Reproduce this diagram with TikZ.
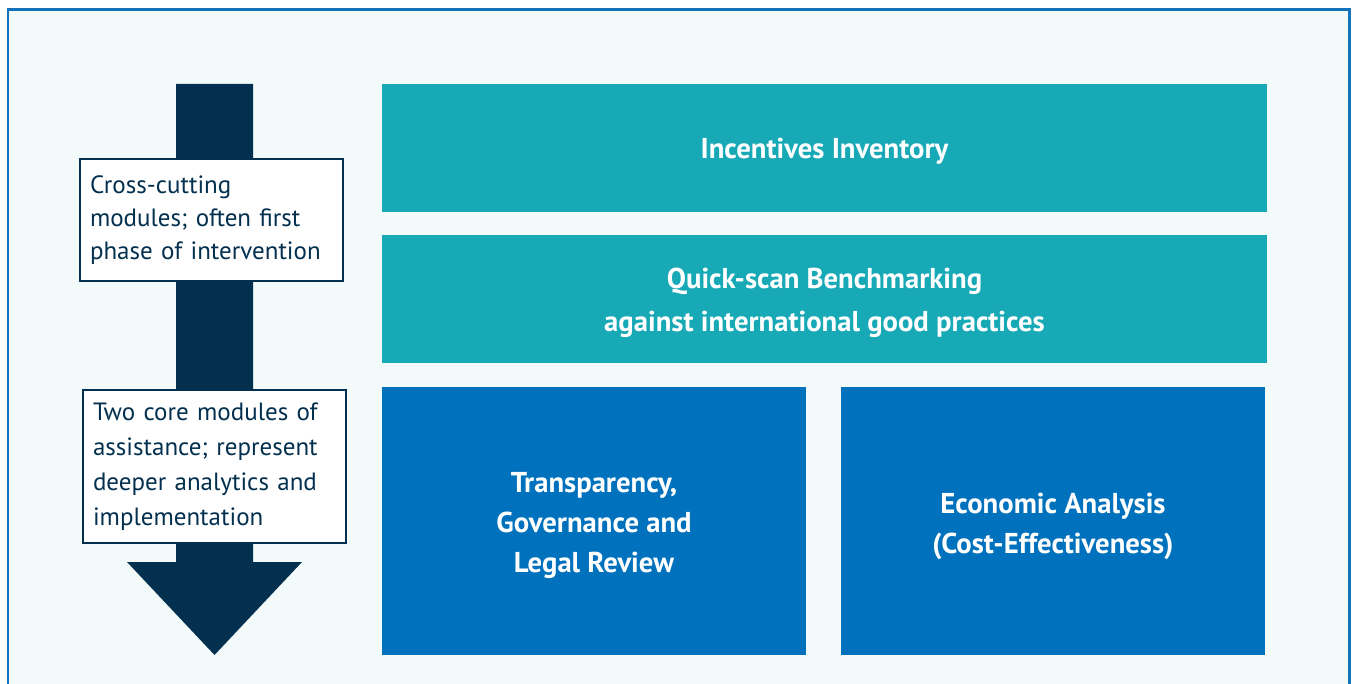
\documentclass[tikz,border=0pt]{standalone}
\usepackage{fontspec}
\setmainfont{PT Sans}
\definecolor{navy}{HTML}{03304F}
\definecolor{teal}{HTML}{17A9B6}
\definecolor{cobalt}{HTML}{0071BC}
\definecolor{paper}{HTML}{F2FBFA}
\definecolor{frameblue}{HTML}{1373BA}
\tikzset{
  module/.style={draw=none, inner sep=0pt},
  teal module/.style={module, fill=teal, minimum width=885pt, minimum height=128pt},
  core module/.style={module, fill=cobalt, minimum width=424pt, minimum height=268pt},
  module text/.style={inner sep=0pt, align=center, text=white,
    font=\bfseries\fontsize{28.7}{43}\selectfont},
  core text/.style={module text, font=\bfseries\fontsize{28.7}{40}\selectfont},
  note/.style={draw=navy, line width=2pt, fill=white, text=navy, align=left,
    inner sep=0pt, text width=243pt, minimum width=263pt}
}
\begin{document}
\begin{tikzpicture}[x=1pt,y=-1pt]
\useasboundingbox (0,0) rectangle (1352,684);
\begin{scope}
  \clip (0,0) rectangle (1352,684);
  % panel with its blue frame
  \draw[frameblue, line width=2.5pt, fill=paper] (8,9.5) rectangle (1349.5,720);
\end{scope}

% downward flow arrow
\fill[navy] (176,84) -- (253,84) -- (253,562) -- (302,562) -- (214.5,655)
  -- (127,562) -- (176,562) -- cycle;

% explanatory notes on the arrow
\node[note, minimum height=122pt, font=\fontsize{25}{33}\selectfont]
  (n1) at (211.5,220) {Cross-cutting\\modules; often first\\phase of intervention};
\node[note, minimum height=153pt, font=\fontsize{25}{35}\selectfont]
  (n2) at (214.5,466.5) {Two core modules of\\assistance; represent\\deeper analytics and\\implementation};

% modules
\node[teal module] (inv) at (824.5,148) {};
\node[teal module] (bench) at (824.5,299) {};
\node[core module] (legal) at (594,521) {};
\node[core module] (econ) at (1053,521) {};

% module titles
\node[module text] (invt) at ([yshift=-3pt]inv.center) {Incentives Inventory};
\node[module text] (bencht) at ([yshift=-4pt]bench.center)
  {Quick-scan Benchmarking\\against international good practices};
\node[core text] (legalt) at ([yshift=-4pt]legal.center)
  {Transparency,\\Governance and\\Legal Review};
\node[core text] (econt) at ([yshift=-5pt]econ.center)
  {Economic Analysis\\(Cost-Effectiveness)};
\end{tikzpicture}
\end{document}
